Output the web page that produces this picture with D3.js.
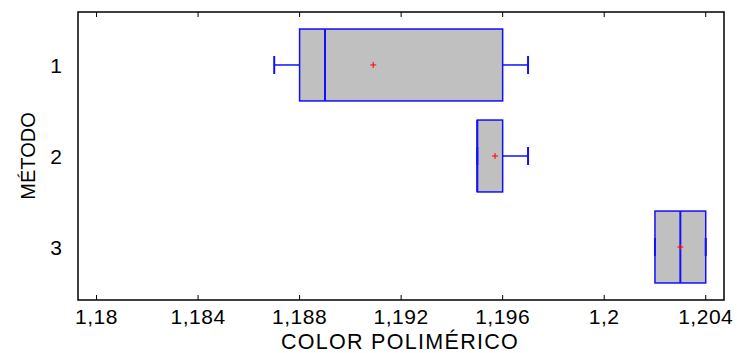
<!DOCTYPE html>
<html>
<head>
<meta charset="utf-8">
<script src="https://cdn.jsdelivr.net/npm/d3@7"></script>
<style>
  body { margin: 0; background: #fff; }
  text { font-family: "Liberation Sans", Arial, sans-serif; fill: #000; }
</style>
</head>
<body>
<svg id="chart" width="737" height="353"></svg>
<script>
// data
const methods = ["1", "2", "3"];
const mins    = [1.187, 1.195, 1.202];
const q1s     = [1.188, 1.195, 1.202];
const medians = [1.189, 1.195, 1.203];
const q3s     = [1.196, 1.196, 1.204];
const maxs    = [1.197, 1.197, 1.204];
const means   = [1.1909, 1.1957, 1.203];
const xTicks = [1.18, 1.184, 1.188, 1.192, 1.196, 1.2, 1.204];
const xTickLabels = ["1,18", "1,184", "1,188", "1,192", "1,196", "1,2", "1,204"];

const width = 737, height = 353;
const margin = {top: 12, right: 13, bottom: 53, left: 78};
const plotW = width - margin.left - margin.right;
const plotH = height - margin.top - margin.bottom;

const svg = d3.select("#chart");
const g = svg.append("g").attr("transform", `translate(${margin.left},${margin.top})`);

const x = d3.scaleLinear().domain([1.17927, 1.20472]).range([0, plotW]);
const y = d3.scalePoint().domain(methods).range([0, plotH]).padding(0.582);
const boxH = y.step() * 0.79;
const capH = 18;

const rows = methods.map((m, i) => ({
  m, min: mins[i], q1: q1s[i], med: medians[i], q3: q3s[i], max: maxs[i], mean: means[i]
}));

const blue = "#1010ff";

const box = g.selectAll(".box").data(rows).enter().append("g").attr("class", "box");

// whiskers
box.append("line")
  .attr("x1", d => x(d.min)).attr("x2", d => x(d.q1))
  .attr("y1", d => y(d.m)).attr("y2", d => y(d.m))
  .attr("stroke", blue).attr("stroke-width", 1.5);
box.append("line")
  .attr("x1", d => x(d.q3)).attr("x2", d => x(d.max))
  .attr("y1", d => y(d.m)).attr("y2", d => y(d.m))
  .attr("stroke", blue).attr("stroke-width", 1.5);

box.append("rect")
  .attr("x", d => x(d.q1))
  .attr("y", d => y(d.m) - boxH / 2)
  .attr("width", d => x(d.q3) - x(d.q1))
  .attr("height", boxH)
  .attr("fill", "#c0c0c0")
  .attr("stroke", blue).attr("stroke-width", 1.5);

box.append("line")
  .attr("x1", d => x(d.med)).attr("x2", d => x(d.med))
  .attr("y1", d => y(d.m) - boxH / 2).attr("y2", d => y(d.m) + boxH / 2)
  .attr("stroke", blue).attr("stroke-width", 2);

// whisker caps
["min", "max"].forEach(k => {
  box.append("line")
    .attr("x1", d => x(d[k])).attr("x2", d => x(d[k]))
    .attr("y1", d => y(d.m) - capH / 2).attr("y2", d => y(d.m) + capH / 2)
    .attr("stroke", blue).attr("stroke-width", 2);
});

// mean marker
box.append("path")
  .attr("d", d => {
    const cx = x(d.mean), cy = y(d.m);
    return `M${cx - 3},${cy}H${cx + 3}M${cx},${cy - 3}V${cy + 3}`;
  })
  .attr("stroke", "#ff0000").attr("stroke-width", 1);

// frame
g.append("rect")
  .attr("width", plotW).attr("height", plotH)
  .attr("fill", "none").attr("stroke", "#000").attr("stroke-width", 1.5);

// inward ticks on bottom and top
g.selectAll(".tb").data(xTicks).enter().append("line")
  .attr("x1", d => x(d)).attr("x2", d => x(d))
  .attr("y1", plotH).attr("y2", plotH - 5)
  .attr("stroke", "#000");
g.selectAll(".tt").data(xTicks).enter().append("line")
  .attr("x1", d => x(d)).attr("x2", d => x(d))
  .attr("y1", 0).attr("y2", 5)
  .attr("stroke", "#000");

// x tick labels
g.selectAll(".xl").data(xTicks).enter().append("text")
  .attr("x", d => x(d))
  .attr("y", plotH + 24)
  .attr("text-anchor", "middle")
  .style("font-size", "21px")
  .style("letter-spacing", "0.5px")
  .text((d, i) => xTickLabels[i]);

// y tick labels
g.selectAll(".yl").data(methods).enter().append("text")
  .attr("x", -16)
  .attr("y", d => y(d))
  .attr("dy", "0.36em")
  .attr("text-anchor", "end")
  .style("font-size", "21px")
  .text(d => d);

// axis titles
svg.append("text")
  .attr("x", margin.left + plotW / 2 - 1)
  .attr("y", 348.5)
  .attr("text-anchor", "middle")
  .style("font-size", "21.5px")
  .style("letter-spacing", "1.3px")
  .text("COLOR POLIMÉRICO");

svg.append("text")
  .attr("transform", `translate(35,${margin.top + plotH / 2}) rotate(-90)`)
  .attr("text-anchor", "middle")
  .style("font-size", "20px")
  .text("MÉTODO");
</script>
</body>
</html>
